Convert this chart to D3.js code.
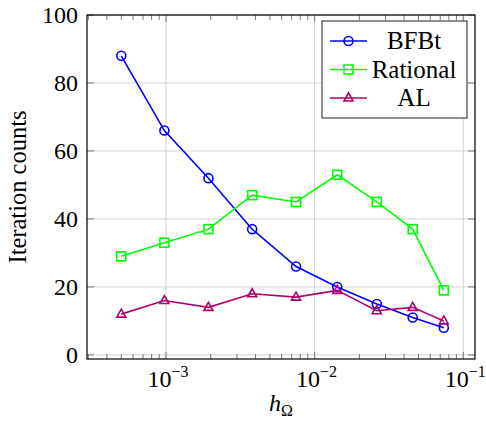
<!DOCTYPE html>
<html>
<head>
<meta charset="utf-8">
<script src="https://cdn.jsdelivr.net/npm/d3@7"></script>
</head>
<body style="margin:0">
<div id="chart"></div>
<script>
'use strict';

// mesh sizes
var hValues = [5e-4, 9.75e-4, 1.93e-3, 3.8e-3, 7.5e-3, 1.42e-2, 2.62e-2, 4.57e-2, 7.4e-2];
var bfbtCounts = [88, 66, 52, 37, 26, 20, 15, 11, 8];
var rationalCounts = [29, 33, 37, 47, 45, 53, 45, 37, 19];
var alCounts = [12, 16, 14, 18, 17, 19, 13, 14, 10];
var yTicks = [0, 20, 40, 60, 80, 100];
var xDecades = [-3, -2, -1];
var seriesNames = ['BFBt', 'Rational', 'AL'];

var width = 486, height = 431;
var plotLeft = 87, plotRight = 475, plotTop = 15, plotBottom = 359;

var svg = d3.select('#chart').append('svg')
  .attr('width', width)
  .attr('height', height);

var x = d3.scaleLog().domain([2.94e-4, 0.12]).range([plotLeft, plotRight]);
var y = d3.scaleLinear().domain([-1.2, 100]).range([plotBottom, plotTop]);

var series = [
  {name: seriesNames[0], values: bfbtCounts, color: '#0000ff', marker: 'circle'},
  {name: seriesNames[1], values: rationalCounts, color: '#00ff00', marker: 'square'},
  {name: seriesNames[2], values: alCounts, color: '#b0006c', marker: 'triangle'}
];

function addText(parent, size) {
  return parent.append('text')
    .attr('font-family', 'Liberation Serif')
    .attr('font-size', size)
    .attr('fill', '#000');
}

// grid
var grid = svg.append('g').attr('stroke', '#d4d4d4').attr('stroke-width', 1);
xDecades.forEach(function(e) {
  var px = x(Math.pow(10, e));
  grid.append('line').attr('x1', px).attr('x2', px).attr('y1', plotTop).attr('y2', plotBottom);
});
yTicks.forEach(function(t) {
  grid.append('line').attr('x1', plotLeft).attr('x2', plotRight).attr('y1', y(t)).attr('y2', y(t));
});

// ticks (inside, top and bottom minor ticks on log axis)
var ticks = svg.append('g').attr('stroke', '#777').attr('stroke-width', 1);
x.ticks().forEach(function(v) {
  var px = x(v);
  var major = Math.abs(Math.log10(v) - Math.round(Math.log10(v))) < 1e-9;
  var len = major ? 7 : 5;
  ticks.append('line').attr('x1', px).attr('x2', px).attr('y1', plotBottom).attr('y2', plotBottom - len);
  ticks.append('line').attr('x1', px).attr('x2', px).attr('y1', plotTop).attr('y2', plotTop + len);
});
yTicks.forEach(function(t) {
  ticks.append('line').attr('x1', plotLeft).attr('x2', plotLeft + 7).attr('y1', y(t)).attr('y2', y(t));
  ticks.append('line').attr('x1', plotRight).attr('x2', plotRight - 7).attr('y1', y(t)).attr('y2', y(t));
});

// frame
svg.append('rect')
  .attr('x', plotLeft).attr('y', plotTop)
  .attr('width', plotRight - plotLeft).attr('height', plotBottom - plotTop)
  .attr('fill', 'none').attr('stroke', '#000').attr('stroke-width', 1.2);

// tick labels
yTicks.forEach(function(t) {
  addText(svg, 24)
    .attr('x', plotLeft - 9).attr('y', y(t) + 8)
    .attr('text-anchor', 'end')
    .text(t);
});
xDecades.forEach(function(e) {
  var lbl = addText(svg, 24)
    .attr('x', x(Math.pow(10, e)) + 2).attr('y', 387)
    .attr('text-anchor', 'middle');
  lbl.append('tspan').text('10');
  lbl.append('tspan').attr('dy', -10).attr('font-size', 16).text('\u2212' + Math.abs(e));
});

// axis titles
addText(svg, 24.5)
  .attr('transform', 'translate(26,187) rotate(-90)')
  .attr('text-anchor', 'middle')
  .text('Iteration counts');

var xl = addText(svg, 24)
  .attr('x', 281).attr('y', 411)
  .attr('text-anchor', 'middle');
xl.append('tspan').attr('font-style', 'italic').text('h');
xl.append('tspan').attr('dy', 5).attr('font-size', 16).text('\u03A9');

function drawMarker(g, kind, cx, cy, color) {
  if (kind === 'circle') {
    g.append('circle').attr('cx', cx).attr('cy', cy).attr('r', 4.5)
      .attr('fill', 'none').attr('stroke', color).attr('stroke-width', 1.6);
  } else if (kind === 'square') {
    g.append('rect').attr('x', cx - 4.5).attr('y', cy - 4.5).attr('width', 9).attr('height', 9)
      .attr('fill', 'none').attr('stroke', color).attr('stroke-width', 1.6);
  } else {
    g.append('path')
      .attr('d', 'M' + cx + ',' + (cy - 5) + 'L' + (cx + 4.5) + ',' + (cy + 3) + 'L' + (cx - 4.5) + ',' + (cy + 3) + 'Z')
      .attr('fill', 'none').attr('stroke', color).attr('stroke-width', 1.6);
  }
}

var line = d3.line()
  .x(function(d) { return x(d[0]); })
  .y(function(d) { return y(d[1]); });

series.forEach(function(s) {
  var pts = hValues.map(function(h, i) { return [h, s.values[i]]; });
  var g = svg.append('g');
  g.append('path').attr('d', line(pts))
    .attr('fill', 'none').attr('stroke', s.color).attr('stroke-width', 1.6);
  pts.forEach(function(p) { drawMarker(g, s.marker, x(p[0]), y(p[1]), s.color); });
});

// legend
var lg = svg.append('g');
lg.append('rect')
  .attr('x', 322).attr('y', 21).attr('width', 145).attr('height', 97)
  .attr('fill', '#fff').attr('stroke', '#444').attr('stroke-width', 1.2);
series.forEach(function(s, i) {
  var ly = 41 + i * 28.5;
  lg.append('line').attr('x1', 330).attr('x2', 367).attr('y1', ly).attr('y2', ly)
    .attr('stroke', s.color).attr('stroke-width', 1.6);
  drawMarker(lg, s.marker, 348.5, ly, s.color);
  addText(lg, 25)
    .attr('x', 414).attr('y', ly + 8)
    .attr('text-anchor', 'middle')
    .text(s.name);
});
</script>
</body>
</html>
